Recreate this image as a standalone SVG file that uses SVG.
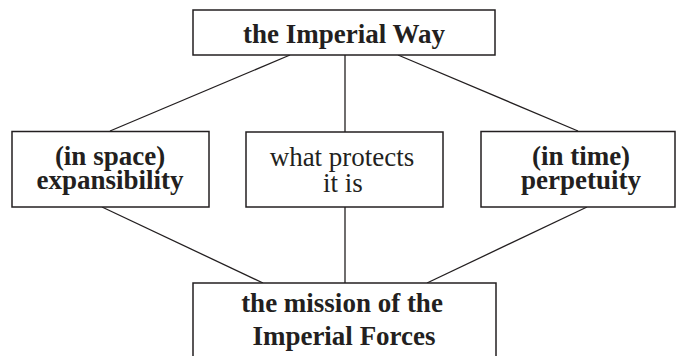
<svg xmlns="http://www.w3.org/2000/svg" width="676" height="356" viewBox="0 0 676 356">
<style>
.box{fill:#fff;stroke:#231f20;stroke-width:1.5}
.ln{stroke:#231f20;stroke-width:1.3;fill:none}
.t{font-family:"Liberation Serif","Times New Roman",serif;font-size:27px;fill:#231f20;text-anchor:middle}
.b{font-weight:bold}
</style>
<rect width="676" height="356" fill="#fff"/>
<g id="connectors">
<line class="ln" x1="290" y1="55" x2="110" y2="131"/>
<line class="ln" x1="345" y1="55" x2="345" y2="132"/>
<line class="ln" x1="398" y1="55" x2="578" y2="131"/>
<line class="ln" x1="102" y1="207" x2="263" y2="283"/>
<line class="ln" x1="345" y1="207" x2="345" y2="283"/>
<line class="ln" x1="587" y1="207" x2="427" y2="283"/>
</g>
<g id="top">
<rect class="box" x="193" y="10" width="302" height="45"/>
<text class="t b" x="344" y="43">the Imperial Way</text>
</g>
<g id="left">
<rect class="box" x="12" y="131.5" width="197" height="75.5"/>
<text class="t b" x="110" y="164.5">(in space)</text>
<text class="t b" x="110" y="189">expansibility</text>
</g>
<g id="middle">
<rect class="box" x="246" y="132" width="197" height="75"/>
<text class="t" x="342" y="166">what protects</text>
<text class="t" x="343" y="192">it is</text>
</g>
<g id="right">
<rect class="box" x="481" y="131.5" width="194" height="75.5"/>
<text class="t b" x="581" y="164.5">(in time)</text>
<text class="t b" x="581" y="189">perpetuity</text>
</g>
<g id="bottom">
<rect class="box" x="193" y="283" width="303" height="90"/>
<text class="t b" x="342" y="312">the mission of the</text>
<text class="t b" x="344" y="345">Imperial Forces</text>
</g>
</svg>
